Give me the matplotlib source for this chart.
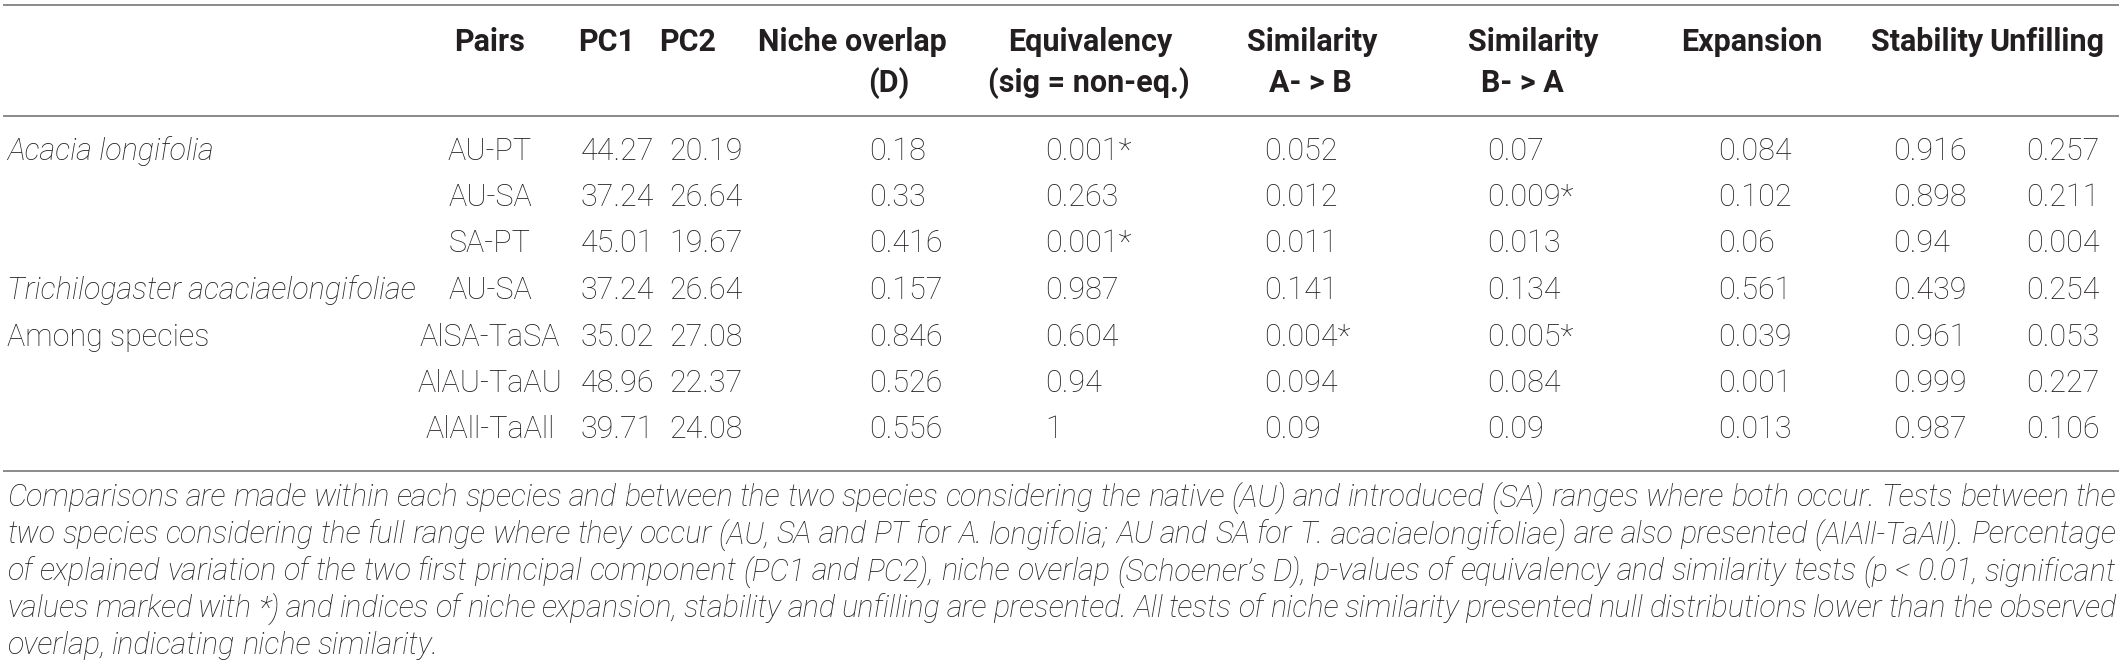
"""Niche comparison table (PCA, overlap, equivalency/similarity tests) drawn as a figure."""

import matplotlib
matplotlib.use("Agg")
import matplotlib.pyplot as plt
from matplotlib import font_manager

W, H = 2123, 669

# ---- table data ---------------------------------------------------------
groups = ["Acacia longifolia", "", "", "Trichilogaster acaciaelongifoliae",
          "Among species", "", ""]
group_italic = [True, False, False, True, False, False, False]
pairs = ["AU-PT", "AU-SA", "SA-PT", "AU-SA", "AlSA-TaSA", "AlAU-TaAU", "AlAll-TaAll"]
pc1 = ["44.27", "37.24", "45.01", "37.24", "35.02", "48.96", "39.71"]
pc2 = ["20.19", "26.64", "19.67", "26.64", "27.08", "22.37", "24.08"]
niche_overlap = ["0.18", "0.33", "0.416", "0.157", "0.846", "0.526", "0.556"]
equivalency = ["0.001*", "0.263", "0.001*", "0.987", "0.604", "0.94", "1"]
sim_ab = ["0.052", "0.012", "0.011", "0.141", "0.004*", "0.094", "0.09"]
sim_ba = ["0.07", "0.009*", "0.013", "0.134", "0.005*", "0.084", "0.09"]
expansion = ["0.084", "0.102", "0.06", "0.561", "0.039", "0.001", "0.013"]
stability = ["0.916", "0.898", "0.94", "0.439", "0.961", "0.999", "0.987"]
unfilling = ["0.257", "0.211", "0.004", "0.254", "0.053", "0.227", "0.106"]

headers_1 = ["Pairs", "PC1", "PC2", "Niche overlap", "Equivalency", "Similarity",
             "Similarity", "Expansion", "Stability", "Unfilling"]
headers_2 = ["", "", "", "(D)", "(sig = non-eq.)", "A- > B", "B- > A", "", "", ""]

caption_lines = [
    "Comparisons are made within each species and between the two species considering the native (AU) and introduced (SA) ranges where both occur. Tests between the",
    "two species considering the full range where they occur (AU, SA and PT for A. longifolia; AU and SA for T. acaciaelongifoliae) are also presented (AlAll-TaAll). Percentage",
    "of explained variation of the two first principal component (PC1 and PC2), niche overlap (Schoener\u2019s D), p-values of equivalency and similarity tests (p < 0.01, significant",
    "values marked with *) and indices of niche expansion, stability and unfilling are presented. All tests of niche similarity presented null distributions lower than the observed",
    "overlap, indicating niche similarity.",
]

# ---- layout (pixels) ------------------------------------------------------
header_cx = [490, 607, 688, 852, 1090, 1312, 1533, 1752, 1927, 2047]
header2_cx = [490, 607, 688, 889, 1089, 1310, 1522, 1752, 1927, 2047]
data_left = [None, 581, 669, 869, 1045, 1264, 1487, 1718, 1893, 2026]
pairs_cx = 490
y_head1, y_head2 = 42, 83
row_y0, row_dy = 151, 46.5
lines_y = [5, 116, 471]
cap_y0, cap_dy = 498, 36.8
x_left, x_right = 7, 2116

TEXT = "#231f20"
RULE = "#8a8a8a"


def pick_family(cands):
    names = {f.name for f in font_manager.fontManager.ttflist}
    for c in cands:
        if c in names:
            return c
    return "DejaVu Sans"


FAM = pick_family(["Roboto", "Liberation Sans"])
FS = 22
CAP_FS = 22


def fx(x):
    return x / W


def fy(y):
    return 1 - y / H


fig = plt.figure(figsize=(W / 100, H / 100), dpi=100)
fig.patch.set_facecolor("white")

for y in lines_y:
    fig.add_artist(plt.Line2D([fx(x_left - 3), fx(x_right + 2)], [fy(y), fy(y)],
                              color=RULE, lw=1.4))

for cx, h in zip(header_cx, headers_1):
    fig.text(fx(cx), fy(y_head1), h, ha="center", va="center", family=FAM,
             weight="bold", fontsize=FS, color=TEXT)
for cx, h in zip(header2_cx, headers_2):
    if h:
        fig.text(fx(cx), fy(y_head2), h, ha="center", va="center", family=FAM,
                 weight="bold", fontsize=FS, color=TEXT)

cols = [pc1, pc2, niche_overlap, equivalency, sim_ab, sim_ba, expansion, stability, unfilling]
for i in range(len(pairs)):
    y = fy(row_y0 + i * row_dy)
    if groups[i]:
        fig.text(fx(x_left), y, groups[i], ha="left", va="center", family=FAM,
                 weight="light", style="italic" if group_italic[i] else "normal",
                 fontsize=FS, color=TEXT)
    fig.text(fx(pairs_cx), y, pairs[i], ha="center", va="center", family=FAM,
             weight="light", fontsize=FS, color=TEXT)
    for xl, col in zip(data_left[1:], cols):
        fig.text(fx(xl), y, col[i], ha="left", va="center", family=FAM,
                 weight="light", fontsize=FS, color=TEXT)

# caption, justified like the printed table footnote
renderer = fig.canvas.get_renderer()
for k, line in enumerate(caption_lines):
    y = fy(cap_y0 + k * cap_dy)
    words = line.split(" ")
    arts = [fig.text(0, y, w, ha="left", va="center", family=FAM, weight="light",
                     style="italic", fontsize=CAP_FS, color=TEXT) for w in words]
    widths = [a.get_window_extent(renderer).width for a in arts]
    if k < len(caption_lines) - 1:
        gap = (x_right - x_left - sum(widths)) / (len(words) - 1)
    else:
        gap = CAP_FS * 0.3
    x = x_left
    for a, wd in zip(arts, widths):
        a.set_x(fx(x))
        x += wd + gap

fig.savefig("out.png", dpi=100, facecolor="white")
